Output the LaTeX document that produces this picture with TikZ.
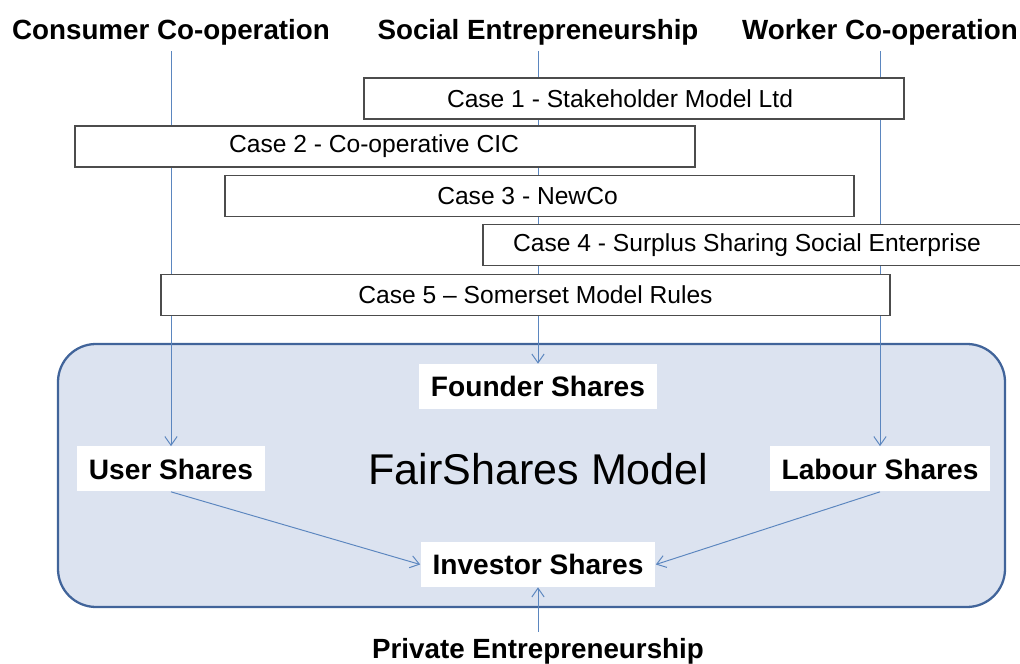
\documentclass[tikz,border=0pt]{standalone}
\usepackage{fontspec}
\setmainfont{Liberation Sans}
\usetikzlibrary{positioning, shapes, arrows.meta}
\definecolor{linkblue}{HTML}{5B86BF}
\definecolor{panelfill}{HTML}{DCE3F0}
\definecolor{paneledge}{HTML}{41649A}

\begin{document}
\begin{tikzpicture}[
  heading/.style={font=\fontsize{15.8}{19}\selectfont\bfseries, anchor=base},
  casebox/.style={draw=black!70, fill=white, line width=0.7pt, minimum height=0.82cm, inner sep=0pt, font=\fontsize{14}{17}\selectfont},
  shares/.style={fill=white, inner xsep=0.24cm, minimum height=0.9cm, font=\fontsize{16}{19}\selectfont\bfseries},
  link/.style={draw=linkblue, line width=0.55pt},
  flow/.style={link, -{Straight Barb[length=5pt,width=7pt]}}]
  \useasboundingbox (0,0) rectangle (20.4,13.28);
  \draw[draw=paneledge, fill=panelfill, line width=1.3pt, rounded corners=0.76cm] (1.16,1.14) rectangle (20.1,6.4);

  \node[heading] (consumer) at (3.42,12.494) {Consumer Co-operation};
  \node[heading] (social) at (10.76,12.494) {Social Entrepreneurship};
  \node[heading] (worker) at (17.6,12.494) {Worker Co-operation};
  \node[heading] (private) at (10.76,0.114) {Private Entrepreneurship};
  \node[font=\fontsize{24.5}{29}\selectfont, anchor=base] (model) at (10.77,3.58) {FairShares Model};

  \node[shares] (founder) at (10.76,5.55) {Founder Shares};
  \node[shares] (user) at (3.42,3.9) {User Shares};
  \node[shares] (labour) at (17.6,3.9) {Labour Shares};
  \node[shares] (investor) at (10.76,1.99) {Investor Shares};

  \draw[flow] (consumer.south) -- (user.north);
  \draw[flow] (social.south) -- (founder.north);
  \draw[flow] (worker.south) -- (labour.north);
  \draw[flow] (user.south) -- (investor.west);
  \draw[flow] (labour.south) -- (investor.east);
  \draw[flow] (private.north) -- (investor.south);

  % text sits a little off centre in the cases
  \node[casebox, minimum width=10.8cm] (case1) at (12.68,11.31) {Case 1 - Stakeholder Model Ltd\hspace*{0.56cm}};
  \node[casebox, minimum width=12.4cm] (case2) at (7.7,10.35) {Case 2 - Co-operative CIC\hspace*{0.44cm}};
  \node[casebox, minimum width=12.58cm] (case3) at (10.79,9.36) {Case 3 - NewCo\hspace*{0.48cm}};
  \node[casebox, minimum width=10.92cm] (case4) at (15.12,8.38) {Case 4 - Surplus Sharing Social Enterprise\hspace*{0.36cm}};
  \node[casebox, minimum width=14.58cm] (case5) at (10.51,7.38) {\hspace*{0.4cm}Case 5 -- Somerset Model Rules};
\end{tikzpicture}
\end{document}
